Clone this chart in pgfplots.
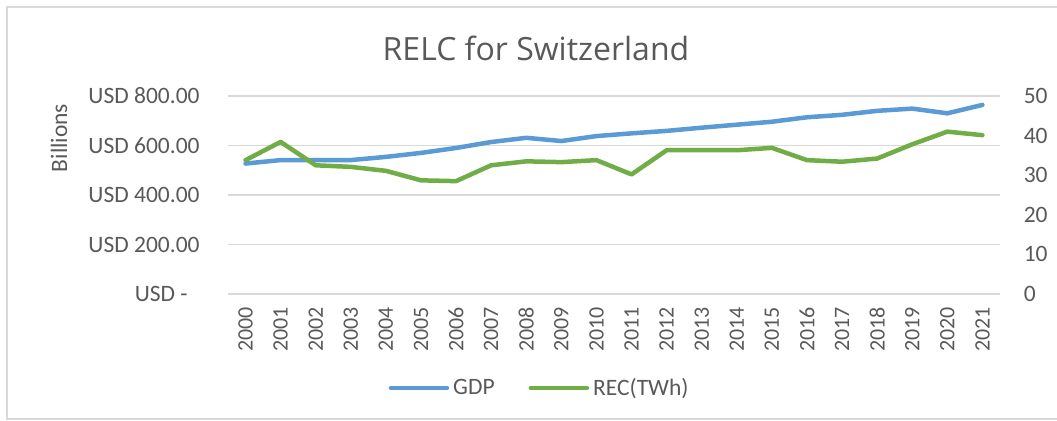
\documentclass[border=0pt]{standalone}
\usepackage{pgfplots}
\pgfplotsset{compat=1.18}
\usepackage{fontspec}
\setmainfont{Carlito}
\newfontfamily\titlefont{Open Sans}

\definecolor{txt}{RGB}{89,89,89}
\definecolor{gdpblue}{RGB}{91,155,213}
\definecolor{recgreen}{RGB}{112,173,71}
\definecolor{gridc}{RGB}{217,217,217}

% GDP in USD billions, REC in TWh
\pgfplotstableread{
x gdp rec
0  527 33.8
1  541 38.4
2  541 32.5
3  541 32.1
4  554 31.1
5  570 28.7
6  590 28.5
7  614 32.5
8  631 33.5
9  618 33.3
10 638 33.8
11 649 30.2
12 659 36.3
13 672 36.3
14 684 36.3
15 696 36.9
16 714 33.8
17 724 33.4
18 740 34.2
19 749 37.8
20 730 41.0
21 764 40.1
}\datatable

\pgfplotsset{
  common/.style={
    scale only axis, width=386pt, height=99pt,
    at={(0pt,0pt)}, anchor=south west,
    xmin=-0.5, xmax=21.5, ymin=0,
    axis line style={draw=none}, tick style={draw=none},
    tick label style={font=\fontsize{11.75}{14}\selectfont, text=txt, inner sep=0pt},
    every axis plot/.append style={line width=2.25pt, line join=round, line cap=round},
  },
}

\begin{document}
\begin{tikzpicture}
\useasboundingbox (-114pt,-63.5pt) rectangle (414.5pt,147pt);
\draw[gridc, line width=0.75pt] (414.5pt,143.5pt) -- (-110.5pt,143.5pt) -- (-110.5pt,-62.5pt) -- (414.5pt,-62.5pt);
\node[text=txt, font=\titlefont\fontsize{16}{19}\selectfont] at (154pt,123pt) {RELC for Switzerland};

\begin{axis}[common,
  ymax=800,
  ymajorgrids, grid style={gridc, line width=0.75pt},
  ytick={0,200,400,600,800},
  yticklabels={USD -\hspace*{6pt}, USD 200.00, USD 400.00, USD 600.00, USD 800.00},
  yticklabel shift=14pt,
  xtick={0,...,21},
  xticklabels={2000,2001,2002,2003,2004,2005,2006,2007,2008,2009,2010,2011,2012,2013,2014,2015,2016,2017,2018,2019,2020,2021},
  xticklabel style={rotate=90, anchor=east, font=\fontsize{11}{13}\selectfont},
  xticklabel shift=6.5pt,
  ylabel={Billions},
  ylabel style={at={(axis description cs:-0.219,0.788)}, anchor=center, text=txt, font=\fontsize{11.75}{14}\selectfont},
]
\addplot[gdpblue] table[x=x, y=gdp] {\datatable};
\end{axis}

\begin{axis}[common,
  ymax=50,
  axis y line*=right, hide x axis,
  ytick={0,10,20,30,40,50},
  yticklabels={0,10,20,30,40,50},
  yticklabel style={anchor=west},
  yticklabel shift=11.7pt,
  legend columns=2,
  legend style={draw=none, fill=none, at={(0.405,-0.475)}, anchor=center,
    font=\fontsize{11.75}{14}\selectfont, text=txt,
    /tikz/every even column/.append style={column sep=15pt}},
  legend image code/.code={\draw[#1] (0pt,0pt) -- (28pt,0pt);},
]
\addlegendimage{gdpblue, line width=2.25pt, line cap=round}
\addlegendentry{GDP}
\addplot[recgreen] table[x=x, y=rec] {\datatable};
\addlegendentry{REC(TWh)}
\end{axis}
\end{tikzpicture}
\end{document}
